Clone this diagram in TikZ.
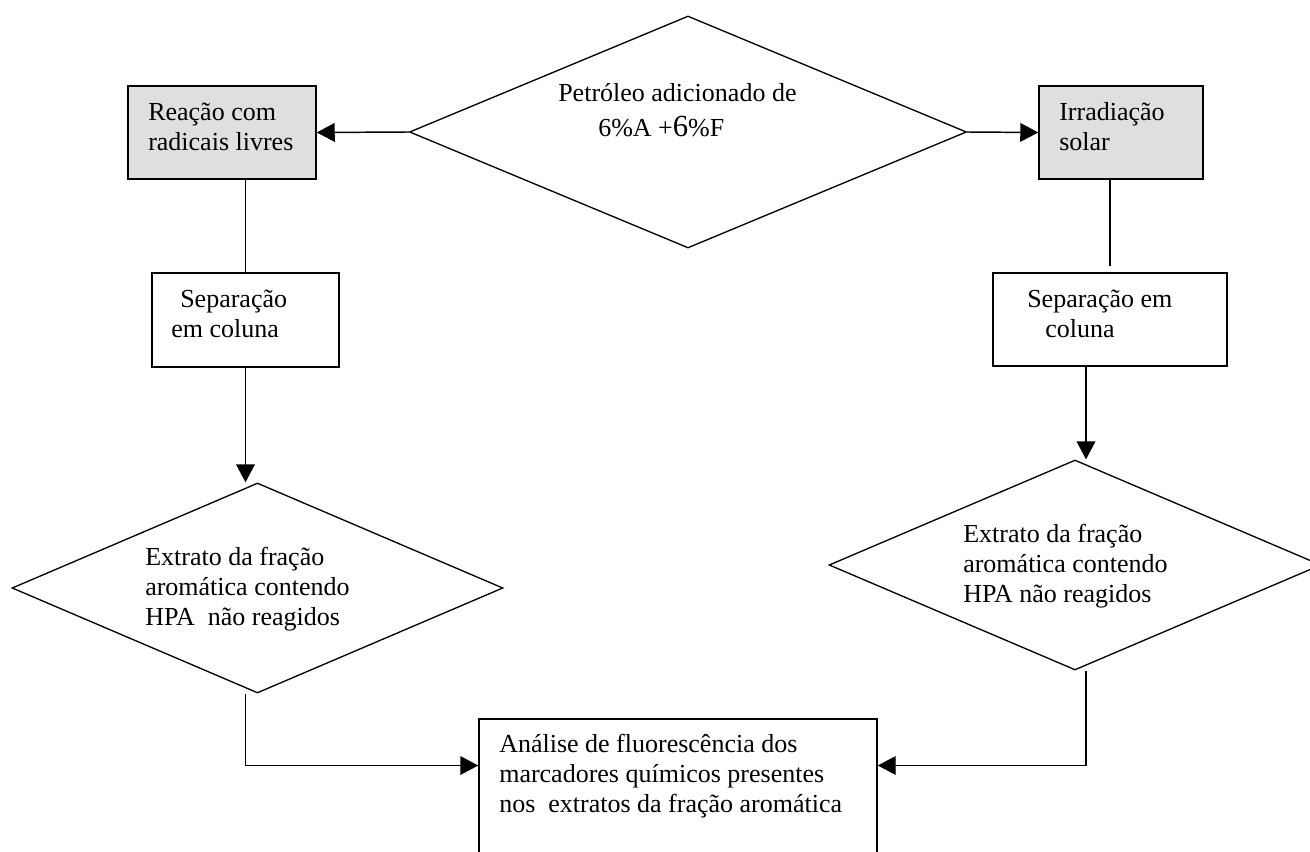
\documentclass[tikz,border=0pt]{standalone}
\usepackage{fontspec}
\setmainfont{Liberation Serif}
\usetikzlibrary{shapes.geometric}
\usetikzlibrary{arrows.meta}

\tikzset{
  txt/.style={anchor=base west, inner sep=0pt, align=left, font=\fontsize{19.5pt}{22.5pt}\selectfont},
  box/.style={draw, rectangle, line width=1.1pt, inner sep=0pt},
  greybox/.style={box, fill=gray!25},
  dia/.style={draw, diamond, line width=1pt, inner sep=0pt},
  flow/.style={line width=1.1pt, -{Triangle[length=13.5pt,width=14pt]}},
  link/.style={line width=1.1pt},
}

\begin{document}
\begin{tikzpicture}[x=0.75pt,y=0.75pt,yscale=-1,xscale=1]
\useasboundingbox (0,0) rectangle (1310,852);
\clip (0,0) rectangle (1310,852);

%Shape: Diamond
\node [dia, minimum width=417.75pt, minimum height=174pt] (start) at (688,132) {};
%Shape: Rectangle
\node [greybox, minimum width=141pt, minimum height=69.75pt] (radic) at (222,132.5) {};
%Shape: Rectangle
\node [greybox, minimum width=123pt, minimum height=69.75pt] (irrad) at (1121,132.5) {};
%Shape: Rectangle
\node [box, minimum width=140.25pt, minimum height=70.5pt] (sepL) at (245.5,320) {};
%Shape: Rectangle
\node [box, minimum width=175.5pt, minimum height=69.75pt] (sepR) at (1110,319.5) {};
%Shape: Diamond
\node [dia, minimum width=368.25pt, minimum height=157.5pt] (extL) at (257.5,588) {};
%Shape: Diamond
\node [dia, minimum width=369pt, minimum height=157.5pt] (extR) at (1075,565) {};
%Shape: Rectangle
\node [box, minimum width=298.5pt, minimum height=120.75pt] (analise) at (678,799.5) {};
\coordinate (sepRout) at ([xshift=-18pt]sepR.south);

%Straight Lines
\draw [flow] (start.west) -- (radic.east);
\draw [flow] (start.east) -- (irrad.west);
\draw [link] (sepL.north |- radic.south) -- (sepL.north);
\draw [link] (sepR.north |- irrad.south) -- ([yshift=-4.5pt]sepR.north);
\draw [flow] (sepL.south) -- (sepL.south |- extL.north);
\draw [flow] (sepRout) -- (sepRout |- extR.north);
\draw [flow] (sepL.south |- extL.south) |- ([yshift=-25.5pt]analise.west);
\draw [flow] (sepRout |- extR.south) |- ([yshift=-25.5pt]analise.east);

% Text Node
\node [txt] (tstart) at (558,137) {Petróleo adicionado de\\[4pt]\hspace*{30pt}6\%A +{\fontsize{23pt}{23pt}\selectfont 6}\%F};
% Text Node
\node [txt] (tradic) at (148,151) {Reação com\\radicais livres};
% Text Node
\node [txt] (tirrad) at (1059,151) {Irradiação\\solar};
% Text Node
\node [txt] (tsepL) at (171,337) {\hspace*{6.75pt}Separação\\em coluna};
% Text Node
\node [txt] (tsepR) at (1027,337) {Separação em\\\hspace*{13.5pt}coluna};
% Text Node
\node [txt] (textL) at (145,625) {Extrato da fração\\aromática contendo\\HPA\ \ não reagidos};
% Text Node
\node [txt] (textR) at (963,602) {Extrato da fração\\aromática contendo\\HPA não reagidos};
% Text Node
\node [txt] (tanalise) at (499,812) {Análise de fluorescência dos\\marcadores químicos presentes\\nos\ \ extratos da fração aromática};

\end{tikzpicture}
\end{document}
